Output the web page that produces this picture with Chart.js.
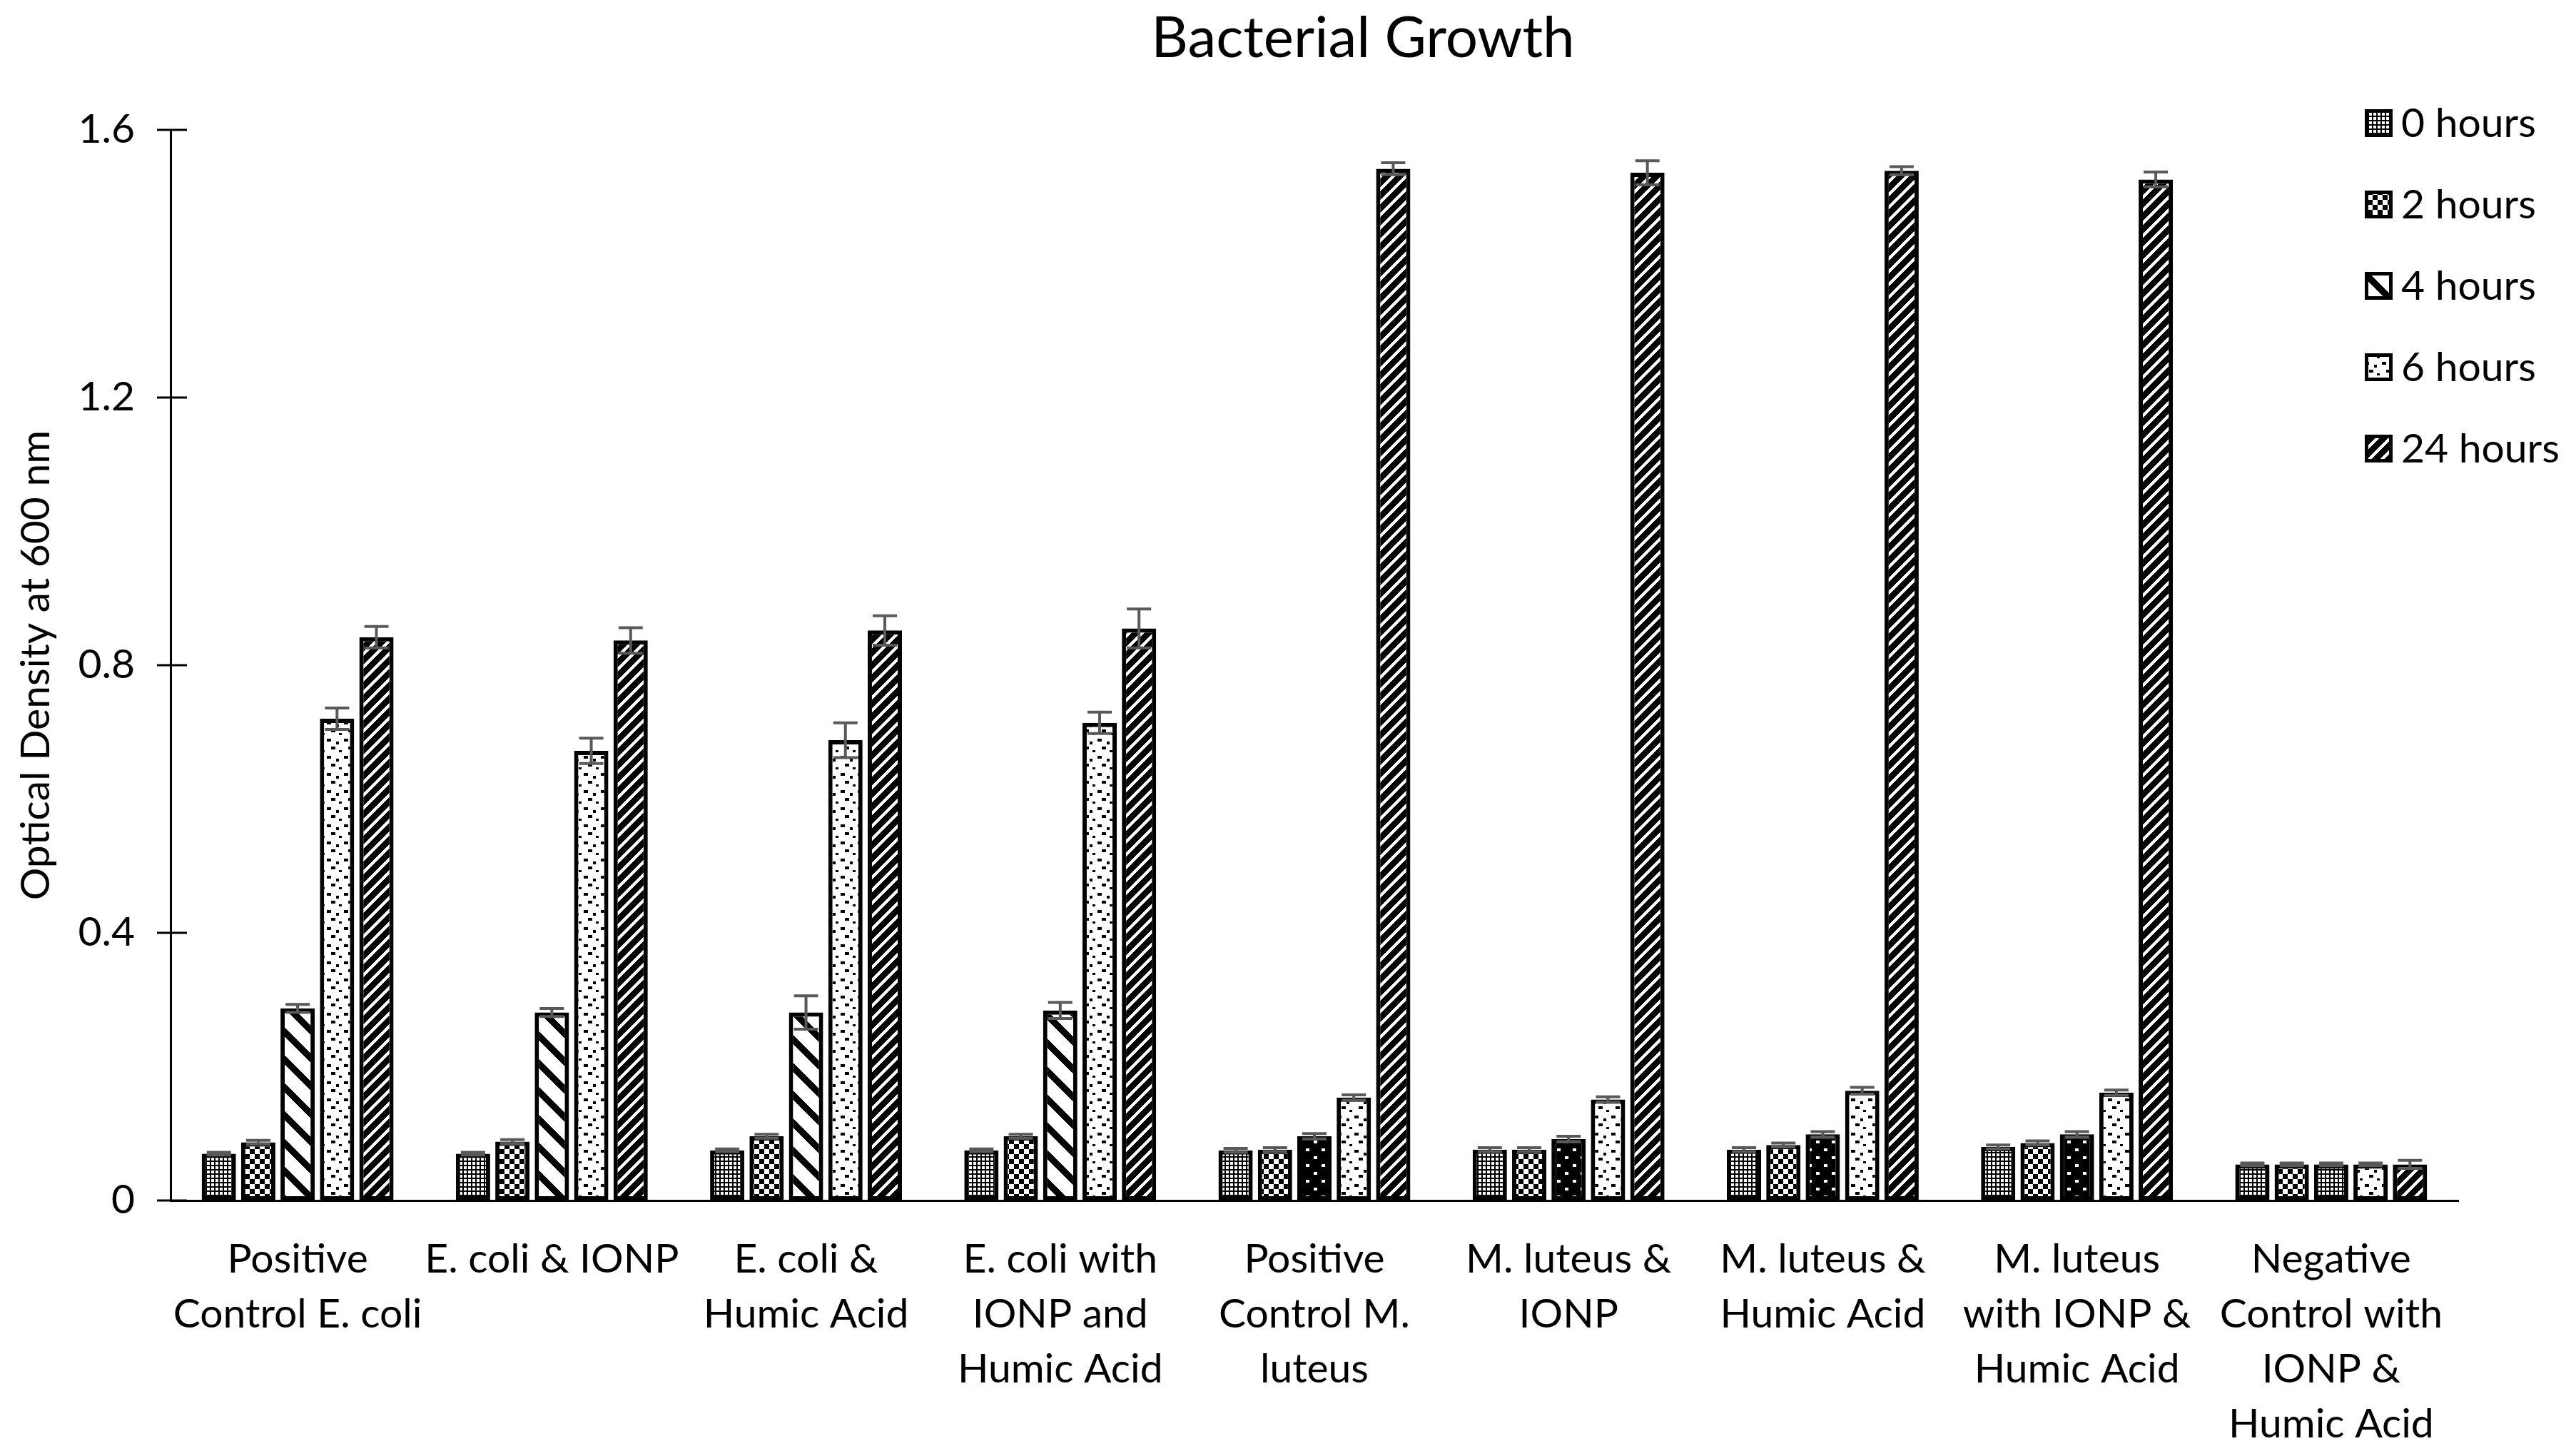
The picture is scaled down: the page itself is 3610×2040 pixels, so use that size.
<!DOCTYPE html>
<html>
<head>
<meta charset="utf-8">
<title>Bacterial Growth</title>
<script src="https://cdn.jsdelivr.net/npm/chart.js@4.4.1/dist/chart.umd.min.js"></script>
<style>
  html, body { margin: 0; padding: 0; background: #fff; }
  #growthChart { display: block; }
</style>
</head>
<body>
<canvas id="growthChart" width="3610" height="2040"></canvas>
<script>
// category labels, split into the lines used on the axis
var categories = [
    ['Positive', 'Control E. coli'],
    ['E. coli & IONP'],
    ['E. coli &', 'Humic Acid'],
    ['E. coli with', 'IONP and', 'Humic Acid'],
    ['Positive', 'Control M.', 'luteus'],
    ['M. luteus &', 'IONP'],
    ['M. luteus &', 'Humic Acid'],
    ['M. luteus', 'with IONP &', 'Humic Acid'],
    ['Negative', 'Control with', 'IONP &', 'Humic Acid']
];
var seriesLabels = ['0 hours', '2 hours', '4 hours', '6 hours', '24 hours'];

// optical density readings
var od0h  = [0.070, 0.070, 0.075, 0.075, 0.075, 0.076, 0.076, 0.080, 0.054];
var od2h  = [0.087, 0.088, 0.096, 0.096, 0.076, 0.076, 0.083, 0.086, 0.054];
var od4h  = [0.287, 0.281, 0.281, 0.284, 0.096, 0.092, 0.099, 0.099, 0.054];
var od6h  = [0.720, 0.672, 0.688, 0.714, 0.154, 0.151, 0.164, 0.161, 0.054];
var od24h = [0.842, 0.837, 0.852, 0.855, 1.542, 1.536, 1.539, 1.526, 0.054];

// error bar half-lengths
var err0h  = [0.002, 0.002, 0.002, 0.002, 0.003, 0.003, 0.003, 0.003, 0.002];
var err2h  = [0.003, 0.003, 0.003, 0.003, 0.003, 0.003, 0.003, 0.003, 0.002];
var err4h  = [0.006, 0.006, 0.025, 0.012, 0.004, 0.004, 0.004, 0.004, 0.002];
var err6h  = [0.016, 0.019, 0.026, 0.016, 0.004, 0.004, 0.005, 0.004, 0.002];
var err24h = [0.016, 0.019, 0.022, 0.029, 0.009, 0.018, 0.006, 0.011, 0.006];

var yTicks = [0, 0.4, 0.8, 1.2, 1.6];

var chartTitle = 'Bacterial Growth';
var FONT = 'Lato';

// pixel tiles for the black and white fills
function makeTile(size, draw) {
    var c = document.createElement('canvas');
    c.width = size;
    c.height = size;
    var g = c.getContext('2d');
    draw(g, size);
    return g.createPattern(c, 'repeat');
}

function diagonal(size, thick, up, ink, paper) {
    return makeTile(size, function(g, s) {
        g.fillStyle = paper;
        g.fillRect(0, 0, s, s);
        g.fillStyle = ink;
        for (var y = 0; y < s; y++) {
            for (var x = 0; x < s; x++) {
                var k = up ? (x + y) % s : ((x - y) % s + s) % s;
                if (k < thick) g.fillRect(x, y, 1, 1);
            }
        }
    });
}

var fineGrid = makeTile(6, function(g, s) {
    g.fillStyle = '#fff';
    g.fillRect(0, 0, s, s);
    g.fillStyle = '#000';
    g.fillRect(0, 0, s, 2);
    g.fillRect(0, 0, 2, s);
});

var checker = makeTile(14, function(g, s) {
    g.fillStyle = '#fff';
    g.fillRect(0, 0, s, s);
    g.fillStyle = '#000';
    g.fillRect(0, 0, 7, 7);
    g.fillRect(7, 7, 7, 7);
});

var wideDown = diagonal(39, 13, false, '#000', '#fff');
var darkUp = diagonal(18, 6, true, '#fff', '#000');

var darkDots = makeTile(22, function(g, s) {
    g.fillStyle = '#000';
    g.fillRect(0, 0, s, s);
    g.fillStyle = '#fff';
    g.fillRect(4, 3, 5, 4);
    g.fillRect(15, 14, 5, 4);
});

var sparseDots = makeTile(24, function(g, s) {
    g.fillStyle = '#fff';
    g.fillRect(0, 0, s, s);
    g.fillStyle = '#000';
    g.fillRect(2, 3, 6, 4);
    g.fillRect(15, 7, 4, 4);
    g.fillRect(8, 14, 6, 4);
    g.fillRect(19, 19, 4, 3);
});

var fourHourFills = [wideDown, wideDown, wideDown, wideDown, darkDots, darkDots, darkDots, darkDots, fineGrid];

function series(i, data, errors, fill, legendFill) {
    return {
        label: seriesLabels[i],
        data: data,
        errors: errors,
        backgroundColor: fill,
        legendFill: legendFill || fill,
        borderColor: '#000',
        borderWidth: 6,
        borderSkipped: false,
        categoryPercentage: 0.775,
        barPercentage: 0.87
    };
}

var errorBars = {
    id: 'errorBars',
    afterDatasetsDraw: function(chart) {
        var ctx = chart.ctx;
        var y = chart.scales.y;
        ctx.save();
        ctx.strokeStyle = '#595959';
        ctx.lineWidth = 4;
        chart.data.datasets.forEach(function(ds, i) {
            chart.getDatasetMeta(i).data.forEach(function(bar, j) {
                var top = y.getPixelForValue(ds.data[j] + ds.errors[j]);
                var bot = y.getPixelForValue(ds.data[j] - ds.errors[j]);
                ctx.beginPath();
                ctx.moveTo(bar.x, top);
                ctx.lineTo(bar.x, bot);
                ctx.moveTo(bar.x - 17, top);
                ctx.lineTo(bar.x + 17, top);
                ctx.moveTo(bar.x - 17, bot);
                ctx.lineTo(bar.x + 17, bot);
                ctx.stroke();
            });
        });
        ctx.restore();
    }
};

// tick marks that cross the value axis
var crossTicks = {
    id: 'crossTicks',
    afterDraw: function(chart) {
        var ctx = chart.ctx;
        var y = chart.scales.y;
        var x0 = chart.chartArea.left;
        ctx.save();
        ctx.strokeStyle = '#000';
        ctx.lineWidth = 3;
        y.ticks.forEach(function(t) {
            var py = y.getPixelForValue(t.value);
            ctx.beginPath();
            ctx.moveTo(x0 - 19, py);
            ctx.lineTo(x0 + 23, py);
            ctx.stroke();
        });
        ctx.restore();
    }
};

// title and legend sit where the original places them, over the plot's right side
var overlay = {
    id: 'overlay',
    afterDraw: function(chart) {
        var ctx = chart.ctx;
        ctx.save();
        ctx.fillStyle = '#000';
        ctx.textAlign = 'center';
        ctx.textBaseline = 'middle';
        ctx.font = '80px ' + FONT;
        ctx.fillText(chartTitle, 1910, 54);

        ctx.textAlign = 'left';
        ctx.font = '57px ' + FONT;
        chart.data.datasets.forEach(function(ds, i) {
            var cy = 172 + i * 114;
            ctx.fillStyle = ds.legendFill;
            ctx.fillRect(3314, cy - 19, 39, 39);
            ctx.strokeStyle = '#000';
            ctx.lineWidth = 5;
            ctx.strokeRect(3316.5, cy - 16.5, 34, 34);
            ctx.fillStyle = '#000';
            ctx.fillText(ds.label, 3365, cy + 2);
        });
        ctx.restore();
    }
};

var ctx = document.getElementById('growthChart').getContext('2d');
var growthChart = new Chart(ctx, {
    type: 'bar',
    data: {
        labels: categories,
        datasets: [
            series(0, od0h, err0h, fineGrid),
            series(1, od2h, err2h, checker),
            series(2, od4h, err4h, fourHourFills, wideDown),
            series(3, od6h, err6h, sparseDots),
            series(4, od24h, err24h, darkUp)
        ]
    },
    options: {
        responsive: false,
        devicePixelRatio: 1,
        animation: false,
        layout: {
            padding: { left: 0, right: 165, top: 182, bottom: 0 }
        },
        scales: {
            x: {
                grid: { display: false, drawTicks: false },
                border: { display: true, color: '#000', width: 3 },
                ticks: {
                    color: '#000',
                    font: { family: FONT, size: 57, lineHeight: 1.35 },
                    padding: 44,
                    maxRotation: 0,
                    autoSkip: false
                },
                afterFit: function(scale) { scale.height = 358; }
            },
            y: {
                min: 0,
                max: 1.6,
                afterBuildTicks: function(scale) {
                    scale.ticks = yTicks.map(function(v) { return { value: v }; });
                },
                grid: { display: false, drawTicks: false },
                border: { display: true, color: '#000', width: 3 },
                ticks: {
                    color: '#000',
                    font: { family: FONT, size: 57 },
                    padding: 50
                },
                title: {
                    display: true,
                    text: 'Optical Density at 600 nm',
                    color: '#000',
                    font: { family: FONT, size: 57 },
                    padding: { top: 16, bottom: 0 }
                },
                afterFit: function(scale) { scale.width = 239; }
            }
        },
        plugins: {
            legend: { display: false },
            tooltip: { enabled: false },
            title: { display: false }
        }
    },
    plugins: [errorBars, crossTicks, overlay]
});
</script>
</body>
</html>
